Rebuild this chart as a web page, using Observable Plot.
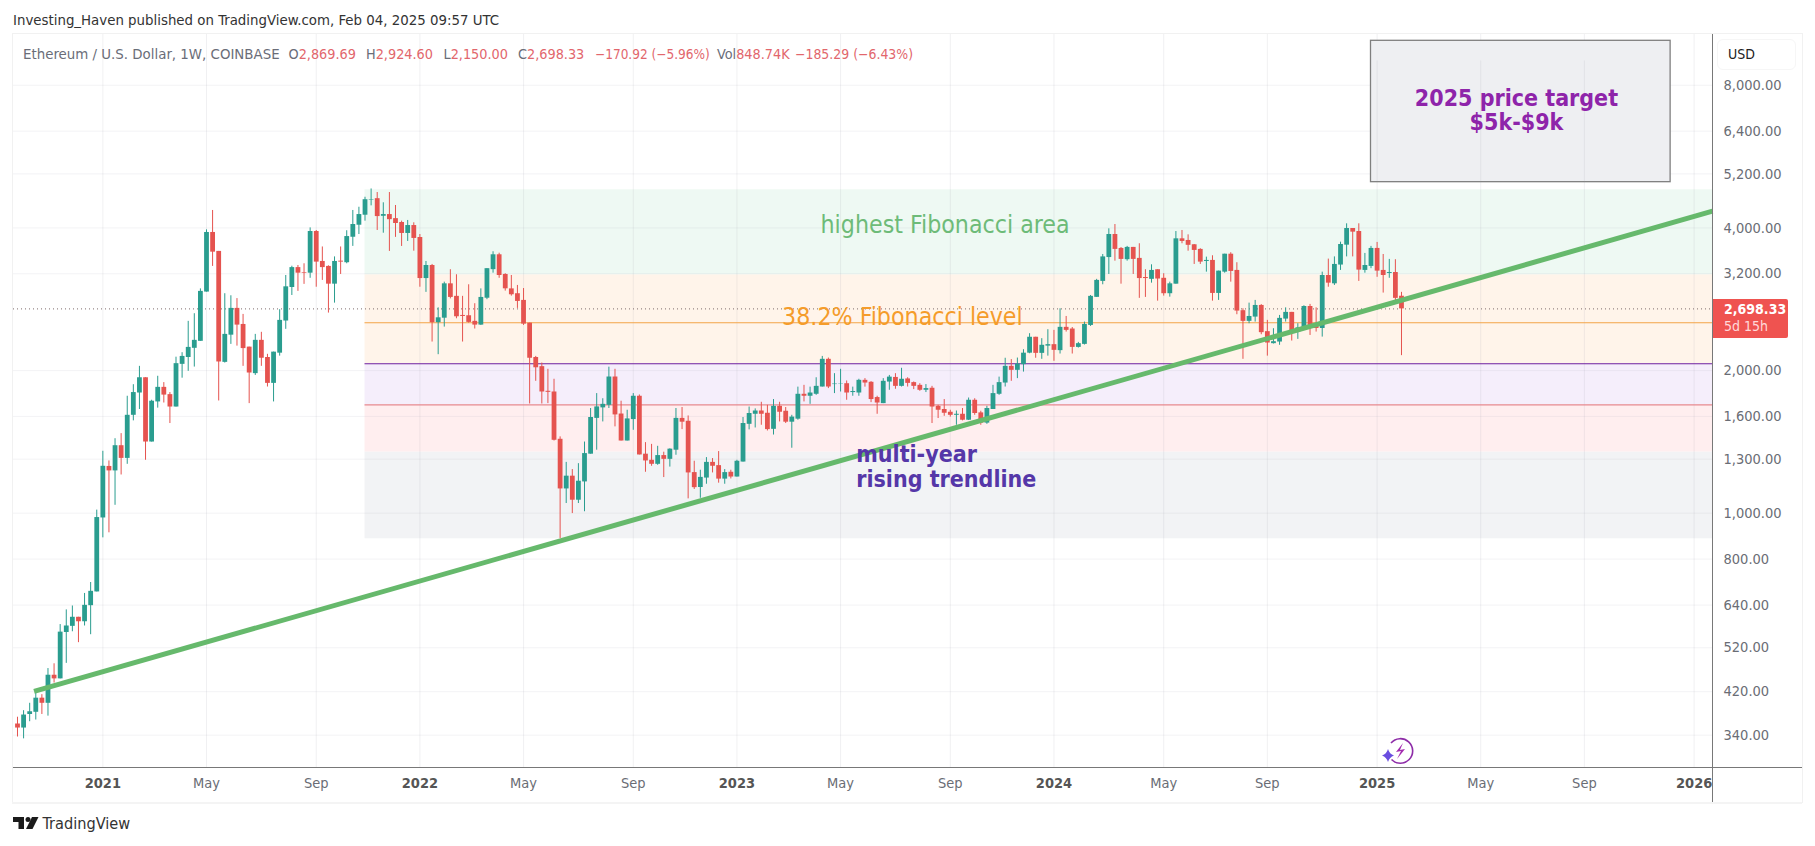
<!DOCTYPE html>
<html><head><meta charset="utf-8">
<script src="https://cdn.jsdelivr.net/npm/d3@7"></script>
<script src="https://cdn.jsdelivr.net/npm/@observablehq/plot@0.6"></script>
<style>
html,body{margin:0;padding:0;background:#fff;width:1815px;height:846px;overflow:hidden}
body{font-family:"DejaVu Sans Condensed","DejaVu Sans",sans-serif;font-stretch:condensed;position:relative}
.a{position:absolute;white-space:nowrap}
#head{height:34px}
svg{display:block}
.red{color:#e2666c}.gr{color:#6a6d78}
</style></head><body>
<div id="head"></div>
<div id="chart"></div>
<div class="a" style="left:13px;top:11px;font-size:14.85px;color:#333;line-height:18px">Investing_Haven published on TradingView.com, Feb 04, 2025 09:57 UTC</div>
<div class="a" style="left:12px;top:33px;width:1790px;height:1px;background:#f1f1f1"></div>
<div class="a" style="left:12px;top:33px;width:1px;height:770px;background:#f1f1f1"></div>
<div class="a" style="left:1802px;top:33px;width:1px;height:770px;background:#f1f1f1"></div>
<div class="a" style="left:12px;top:802px;width:1790px;height:2px;background:#f4f4f4"></div>
<div class="a" style="left:13px;top:767px;width:1789px;height:1px;background:#787878"></div>
<div class="a" style="left:1712px;top:34px;width:1px;height:768px;background:#787878"></div>
<div class="a gr" style="left:23px;top:45px;font-size:14.87px;line-height:18px">Ethereum / U.S. Dollar, 1W, COINBASE</div>
<div class="a gr" style="left:288.5px;top:45px;font-size:14.3px;line-height:18px">O<span class="red">2,869.69</span></div>
<div class="a gr" style="left:366px;top:45px;font-size:14.3px;line-height:18px">H<span class="red">2,924.60</span></div>
<div class="a gr" style="left:443.5px;top:45px;font-size:14.3px;line-height:18px">L<span class="red">2,150.00</span></div>
<div class="a gr" style="left:518px;top:45px;font-size:14.3px;line-height:18px">C<span class="red">2,698.33</span></div>
<div class="a red" style="left:595px;top:45px;font-size:13.5px;line-height:18px">−170.92 (−5.96%)</div>
<div class="a gr" style="left:717px;top:45px;font-size:14.3px;line-height:18px">Vol<span class="red">848.74</span><span class="red">K</span></div>
<div class="a red" style="left:795px;top:45px;font-size:13.9px;line-height:18px">−185.29 (−6.43%)</div>
<div class="a" style="left:1717px;top:39px;width:79px;height:31px;border:1px solid #f6f6f6;border-radius:6px;box-sizing:border-box"></div>
<div class="a" style="left:1728px;top:45px;font-size:14px;line-height:18px;color:#222">USD</div>
<div class="a" style="left:1713px;top:299px;width:75px;height:39px;background:#ef5350;border-radius:0 2px 2px 0"></div>
<div class="a" style="left:1724px;top:301px;font-size:14px;line-height:17px;color:#fff;font-weight:bold">2,698.33</div>
<div class="a" style="left:1724px;top:318px;font-size:14px;line-height:17px;color:#ffd9d9">5d 15h</div>
<svg class="a" style="left:1381px;top:735px" width="36" height="32" viewBox="0 0 36 32">
<path d="M10 8 A12.3 12.3 0 1 1 10.500 24.500" fill="none" stroke="#8e2da8" stroke-width="1.6"/>
<path d="M22 8 L15 17 L20 16 L16 24 L24 14 L19 15 Z" fill="#a32bb0"/>
<path d="M7 14 Q8.500 19 13 20.500 Q8.500 22 7 27 Q5.500 22 1 20.500 Q5.500 19 7 14Z" fill="#6a4de0"/>
</svg>
<svg class="a" style="left:13px;top:816px" width="26" height="16" viewBox="0 0 26 16">
<path d="M0 1 H11 V13 H5.500 V6 H0 Z" fill="#1b1b1b"/><circle cx="15" cy="3.500" r="2.500" fill="#1b1b1b"/>
<path d="M19 1 H25.500 L19.500 13 H13 Z" fill="#1b1b1b"/></svg>
<div class="a" style="left:42.500px;top:814px;font-size:16.2px;line-height:20px;color:#333">TradingView</div>
<script>
const opens=[359,352,376,380,407,397,455,447,560,577,603,590,638,682,977,1255,1228,1388,1305,1609,
1793,1931,1413,1717,1843,1779,1675,2061,2131,2228,2305,2928,3912,3568,2081,2375,2705,2502,2241,1970,
2316,2131,1879,2176,2544,2994,3298,3220,3210,3930,3398,3317,3043,3403,3377,3822,4052,4254,4576,4610,
4232,4268,4184,4106,3893,4046,3818,3127,3332,2523,2579,3048,2868,2614,2610,2540,2494,2842,3265,3510,
3190,2974,2905,2812,2518,2131,2038,1808,1802,1432,1125,1197,1065,1164,1332,1585,1668,1689,1938,1619,
1420,1576,1765,1332,1293,1268,1323,1299,1358,1585,1563,1218,1133,1186,1280,1260,1180,1220,1192,1282,
1540,1617,1643,1625,1503,1681,1641,1556,1579,1782,1765,1782,1846,2112,1868,1870,1876,1797,1793,1907,
1889,1754,1703,1891,1934,1852,1920,1886,1861,1817,1835,1681,1655,1633,1609,1617,1571,1731,1628,1549,
1655,1782,1882,2041,2002,2058,2176,2351,2174,2252,2268,2203,2467,2447,2238,2271,2490,2854,3084,3463,
3873,3620,3427,3638,3449,3143,3115,3264,3131,2905,3043,3793,3763,3685,3603,3398,3415,2909,3226,3520,
3253,2675,2540,2593,2744,2416,2279,2297,2568,2653,2411,2453,2730,2502,2453,3174,3048,3339,3678,3988,
3930,3253,3317,3620,3253,3205,3220,2869.69];
const highs=[371,383,397,421,414,470,481,582,625,637,603,677,714,1015,1351,1289,1436,1472,1765,1867,
2041,1931,1731,1945,1886,1797,2134,2181,2540,2636,2974,3962,4353,3568,2905,2876,2837,2627,2241,2384,
2408,2164,2187,2688,3174,3320,3332,3360,4000,3950,3646,3327,3474,3646,3945,4353,4422,4642,4833,4750,
4519,4750,4460,4133,4147,4100,3873,3398,3349,2712,3073,3264,3185,2868,3034,2767,2974,3281,3562,3537,
3201,3174,3024,2979,2518,2142,2074,2012,1917,1449,1280,1236,1272,1413,1663,1788,1744,2033,2012,1723,
1649,1788,1776,1409,1397,1384,1345,1367,1663,1671,1604,1287,1232,1310,1304,1349,1236,1232,1293,1592,
1675,1660,1714,1689,1737,1714,1671,1609,1845,1861,1845,1931,2142,2125,1970,2012,1901,1845,1917,1923,
1895,1765,1923,1953,1970,2022,1931,1892,1876,1868,1852,1689,1737,1649,1643,1663,1750,1744,1641,1681,
1861,1937,2123,2109,2125,2213,2392,2351,2335,2439,2431,2700,2601,2465,2293,2531,2880,3115,3515,3982,
4066,3636,3656,3638,3703,3264,3343,3264,3201,3073,3930,3950,3867,3690,3615,3470,3493,3242,3520,3545,
3377,2700,2775,2812,2755,2552,2451,2614,2712,2653,2511,2740,2758,2712,3226,3437,3474,3732,4080,3988,
4080,3533,3656,3727,3515,3432,3427,2924.6];
const lows=[337,334,363,366,376,373,438,447,482,562,533,578,554,682,887,909,1039,1204,1268,1566,
1655,1293,1413,1666,1708,1546,1675,1927,1992,2034,2305,2928,3317,1725,2074,2271,2252,2041,1703,1953,
2041,1846,1717,2145,2443,2880,2938,3040,3131,2998,3099,2644,2775,3190,3360,3656,3873,4133,4452,3950,
3898,3568,3820,3655,3745,3572,2998,2924,2297,2160,2470,2833,2572,2297,2518,2447,2490,2822,3210,3131,
2942,2871,2705,2490,1700,1898,1700,1703,1420,884,1048,998,1048,1007,1332,1358,1558,1663,1521,1420,
1420,1496,1327,1220,1256,1262,1189,1251,1325,1501,1072,1122,1075,1151,1216,1157,1151,1181,1192,1282,
1499,1513,1533,1491,1462,1558,1546,1371,1571,1717,1697,1773,1846,1832,1788,1802,1731,1765,1765,1845,
1711,1617,1703,1817,1826,1846,1846,1823,1808,1797,1546,1584,1601,1595,1533,1566,1569,1609,1533,1540,
1655,1773,1846,1898,1923,1985,2170,2123,2112,2145,2092,2167,2411,2167,2231,2264,2478,2854,3034,3190,
3403,3043,3403,3190,2840,2853,3058,2802,2871,2857,3043,3703,3572,3349,3349,3226,2802,2812,3210,3073,
2623,2112,2511,2531,2380,2145,2275,2261,2531,2308,2327,2441,2372,2411,2353,2998,3024,3253,3474,3474,
3084,3210,3281,3146,2914,3131,2766,2150];
const closes=[352,375,381,407,397,455,447,561,578,603,590,639,684,979,1256,1228,1388,1305,1609,1797,
1931,1413,1723,1843,1775,1675,2068,2142,2238,2316,2938,3912,3555,2085,2384,2705,2494,2225,1976,2316,
2123,1879,2187,2552,3004,3298,3210,3210,3930,3387,3298,3043,3398,3387,3835,4066,4268,4587,4587,4226,
4268,4163,4086,3893,4046,3800,3127,3332,2523,2584,3048,2853,2597,2601,2527,2494,2853,3281,3510,3174,
2975,2890,2798,2506,2123,2027,1802,1799,1425,1125,1197,1065,1168,1336,1592,1676,1697,1938,1612,1420,
1581,1765,1327,1289,1268,1323,1299,1365,1585,1556,1216,1132,1190,1280,1256,1180,1218,1192,1287,1546,
1623,1643,1617,1501,1681,1633,1556,1595,1782,1765,1793,1852,2112,1846,1873,1873,1793,1806,1907,1882,
1737,1708,1898,1937,1852,1917,1879,1852,1817,1832,1675,1649,1625,1609,1617,1571,1731,1623,1549,1663,
1788,1886,2041,2002,2064,2176,2351,2174,2261,2268,2206,2467,2431,2238,2279,2502,2868,3099,3474,3873,
3603,3432,3638,3432,3127,3127,3253,3120,2905,3048,3793,3745,3675,3585,3387,3415,2909,3242,3520,3237,
2670,2540,2601,2744,2404,2286,2301,2577,2653,2411,2461,2730,2490,2453,3174,3058,3349,3690,3988,3918,
3258,3332,3620,3242,3174,3220,2840,2698.33];
const firstWeek="2020-09-28";
const priceTicks=[8000,6400,5200,4000,3200,2000,1600,1300,1000,800,640,520,420,340];
const yearTicks=["2021-01-04","2022-01-03","2023-01-02","2024-01-01","2025-01-06","2026-01-05"];
const yearLabels=["2021","2022","2023","2024","2025","2026"];
const monthTicks=["2021-05-03","2021-09-06","2022-05-02","2022-09-05","2023-05-01","2023-09-04","2024-05-06","2024-09-02","2025-05-05","2025-09-01"];
const monthLabels=["May","Sep","May","Sep","May","Sep","May","Sep","May","Sep"];
const zoneTops=[4813,3182,2067,1693,1345];
const zoneBottoms=[3182,2067,1693,1345,883];
const zoneFills=["#eef9f3","#fff4ea","#f5eefb","#ffeeef","#f2f3f5"];
const levelPrices=[2522,2067,1693];
const levelColors=["#f3a447","#6f1f9c","#e58891"];
const trendDates=["2020-10-17","2026-01-26T02:00Z"];
const trendPrices=[420.5,4338];
const lastPrice=2698.33;
const D=s=>new Date(s);
const xDomain=[D("2020-09-23T10:00Z"),D("2026-01-26T02:00Z")];
const start=D(firstWeek);
const candles=closes.map((c,i)=>({date:d3.utcDay.offset(start,i*7),o:opens[i],h:highs[i],l:lows[i],c}));
const up=candles.filter(d=>d.c>=d.o), down=candles.filter(d=>d.c<d.o);
const zones=zoneTops.map((t,i)=>({t,b:zoneBottoms[i],f:zoneFills[i]}));
const zoneStart=D("2021-11-01");
const font='"DejaVu Sans Condensed","DejaVu Sans",sans-serif';
const green="#2a9d8f", red="#e5534f", gridC="#a0a4b0";
const candleMarks=(data,col)=>[
  Plot.ruleX(data,{x:"date",y1:"l",y2:"h",stroke:col,strokeWidth:1}),
  Plot.ruleX(data,{x:"date",y1:"o",y2:"c",stroke:col,strokeWidth:4.8})
];
const plainLabels=[
 {d:"2023-08-29",p:4047,t:"highest Fibonacci area",c:"#6dbb78"},
 {d:"2023-07-11",p:2588,t:"38.2% Fibonacci level",c:"#f59c2a"}
];
const trendLabels=[
 {d:"2023-05-19",p:1254,t:"multi-year\nrising trendline",c:"#5537a8"}
];
const targetLabels=[
 {d:"2025-06-15",p:7082,t:"2025 price target\n$5k-$9k",c:"#8e24aa"}
];
const plot=Plot.plot({
  width:1815,height:768,marginLeft:13,marginRight:103,marginTop:0,marginBottom:35,
  style:{fontFamily:font,background:"transparent"},
  x:{type:"utc",domain:xDomain,label:null},
  y:{type:"log",domain:[290.6,10237],label:null},
  marks:[
    Plot.rect(zones,{x1:()=>zoneStart,x2:()=>xDomain[1],y1:"b",y2:"t",fill:"f"}),
    Plot.ruleY(priceTicks,{stroke:gridC,strokeOpacity:0.13}),
    Plot.ruleX(yearTicks.concat(monthTicks).map(D),{stroke:gridC,strokeOpacity:0.16}),
    Plot.ruleY([lastPrice],{stroke:"#7d6b6b",strokeDasharray:"1,3",strokeWidth:1}),
    Plot.ruleY(levelPrices.map((p,i)=>({p,c:levelColors[i]})),{y:"p",x1:()=>zoneStart,x2:()=>xDomain[1],stroke:"c",strokeWidth:1.1}),
    ...candleMarks(up,green),
    ...candleMarks(down,red),
    Plot.line(trendDates.map((d,i)=>({d:D(d),p:trendPrices[i]})),{x:"d",y:"p",stroke:"#66b96c",strokeWidth:5,strokeLinecap:"butt"}),
    Plot.rect([{a:"2024-12-30",b:"2025-12-09",p1:4995,p2:9928}],{x1:d=>D(d.a),x2:d=>D(d.b),y1:"p1",y2:"p2",fill:"#eeeff2",stroke:"#7f7f7f",strokeWidth:1.3}),
    Plot.ruleX([D("2025-01-06"),D("2025-05-05"),D("2025-09-01")],{y1:4995,y2:9000,stroke:gridC,strokeOpacity:0.16}),
    Plot.text(plainLabels,{x:d=>D(d.d),y:"p",text:"t",fill:"c",fontSize:24.7,textAnchor:"middle",fontFamily:font}),
    Plot.text(trendLabels,{x:d=>D(d.d),y:"p",text:"t",fill:"c",fontSize:23,fontWeight:"bold",textAnchor:"start",lineHeight:1.1,fontFamily:font}),
    Plot.text(targetLabels,{x:d=>D(d.d),y:"p",text:"t",fill:"c",fontSize:23,fontWeight:"bold",textAnchor:"middle",lineHeight:1.06,fontFamily:font}),
    Plot.axisY(priceTicks,{anchor:"right",tickSize:0,tickPadding:11,textAnchor:"start",tickFormat:d3.format(",.2f"),label:null,fontSize:14.5,fill:"#6a6d75",fontFamily:font}),
    Plot.axisX(monthTicks.map(D),{anchor:"bottom",tickSize:0,tickPadding:10,tickFormat:(d,i)=>monthLabels[i],label:null,fontSize:14.5,fill:"#6a6d75",fontFamily:font}),
    Plot.axisX(yearTicks.map(D),{anchor:"bottom",tickSize:0,tickPadding:10,tickFormat:(d,i)=>yearLabels[i],label:null,fontSize:14.5,fontWeight:"bold",fill:"#555",fontFamily:font})
  ]
});
document.getElementById("chart").appendChild(plot);
</script>
</body></html>
